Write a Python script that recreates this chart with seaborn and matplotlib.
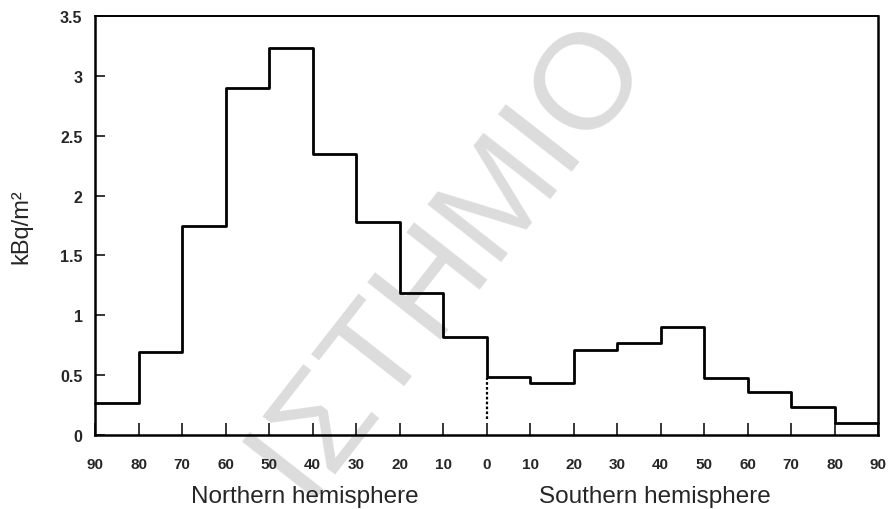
import numpy as np
import matplotlib
matplotlib.use("Agg")
import matplotlib.pyplot as plt
import seaborn as sns

# ---- data ----
band_labels = ["90", "80", "70", "60", "50", "40", "30", "20", "10",
               "0", "10", "20", "30", "40", "50", "60", "70", "80", "90"]
deposition = [0.27, 0.69, 1.745, 2.90, 3.23, 2.35, 1.777, 1.19, 0.816,
              0.487, 0.434, 0.713, 0.766, 0.90, 0.474, 0.362, 0.231, 0.098]
y_ticks = [0, 0.5, 1, 1.5, 2, 2.5, 3, 3.5]
y_tick_labels = ["0", "0.5", "1", "1.5", "2", "2.5", "3", "3.5"]
equator_dotted = [0.13, 0.48]
hemisphere_labels = ["Northern hemisphere", "Southern hemisphere"]
watermark = "ΙΣΤΗΜΙΟ"

sns.set_style("ticks")
plt.rcParams["font.family"] = ["Liberation Sans", "DejaVu Sans"]

fig = plt.figure(figsize=(8.88, 5.10), dpi=100)
ax = fig.add_axes([95/888, 1-436/510, (878-95)/888, (436-17)/510])
ax.patch.set_facecolor("none")

edges = np.arange(len(band_labels)) * 10
vals = np.append(deposition, deposition[-1])
sns.lineplot(x=edges, y=vals, drawstyle="steps-post", color="black",
             lw=2.0, estimator=None, ax=ax, clip_on=False, zorder=3)
ax.vlines(edges[9], equator_dotted[0], equator_dotted[1], color="black",
          lw=1.6, linestyles=(0, (1.2, 1.0)))

ax.set_xlim(edges[0], edges[-1])
ax.set_ylim(0, 3.5)
ax.set_xticks(edges)
ax.set_xticklabels(band_labels, fontsize=11, fontweight="bold")
ax.set_yticks(y_ticks)
ax.set_yticklabels(y_tick_labels, fontsize=11.5, fontweight="bold")
ax.tick_params(axis="x", direction="in", length=9, width=1.3, pad=16,
               top=False)
ax.tick_params(axis="y", direction="in", length=7.5, width=1.3, pad=9,
               right=False)
for side in ["left", "bottom", "right"]:
    ax.spines[side].set_linewidth(1.8)
ax.spines["top"].set_linewidth(1.4)
for s in ax.spines.values():
    s.set_color("black")

ax.set_ylabel("kBq/m²", fontsize=17, labelpad=20)
ax.set_xlabel("")

ax.text(48.3, -0.146, hemisphere_labels[0], transform=ax.get_xaxis_transform(),
        ha="center", va="center", fontsize=17.5)
ax.text(128.7, -0.146, hemisphere_labels[1], transform=ax.get_xaxis_transform(),
        ha="center", va="center", fontsize=17.5)

fig.text(476/888, 1-278/510, watermark, rotation=52, color="#dcdcdc",
         fontsize=98, ha="center", va="baseline", zorder=-1,
         rotation_mode="anchor")

fig.savefig("out.png", dpi=100, facecolor="white")
